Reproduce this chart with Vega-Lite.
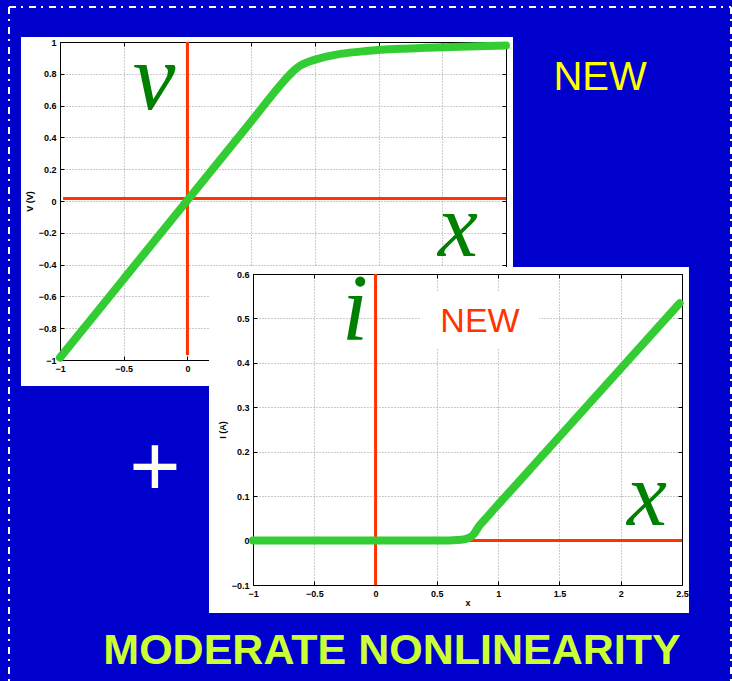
{
  "$schema": "https://vega.github.io/schema/vega-lite/v6.json",
  "background": "#0000CC",
  "padding": {"left": 8, "top": 6, "right": 0, "bottom": 0},
  "config": {
    "view": {"stroke": null},
    "axis": {
      "domainColor": "black", "domainWidth": 1,
      "tickColor": "black", "tickSize": -4, "tickWidth": 1,
      "labelFont": "Liberation Sans", "labelFontSize": 9, "labelFontWeight": "bold", "labelColor": "black", "labelPadding": 8,
      "gridColor": "#999999", "gridDash": [1, 2], "gridWidth": 1,
      "titleFont": "Liberation Sans", "titleFontSize": 9, "titleFontWeight": "bold", "titleColor": "black", "titlePadding": 4,
      "labelFlush": false, "labelOverlap": false
    },
    "axisX": {"titlePadding": 0}
  },
  "datasets": {
    "vcurve": [
      {"x": -1, "v": -0.985}, {"x": -0.5, "v": -0.49}, {"x": 0, "v": 0.005}, {"x": 0.5, "v": 0.5},
      {"x": 0.76, "v": 0.757}, {"x": 0.8, "v": 0.792}, {"x": 0.84, "v": 0.824}, {"x": 0.88, "v": 0.849},
      {"x": 0.95, "v": 0.875}, {"x": 1.05, "v": 0.9}, {"x": 1.2, "v": 0.925}, {"x": 1.4, "v": 0.943},
      {"x": 1.7, "v": 0.958}, {"x": 2.0, "v": 0.967}, {"x": 2.5, "v": 0.978}
    ],
    "icurve": [
      {"x": -1, "i": 0}, {"x": 0, "i": 0}, {"x": 0.5, "i": 0}, {"x": 0.7, "i": 0.002},
      {"x": 0.76, "i": 0.006}, {"x": 0.8, "i": 0.014}, {"x": 0.84, "i": 0.031}, {"x": 0.9, "i": 0.05},
      {"x": 1.2, "i": 0.142}, {"x": 1.5, "i": 0.234}, {"x": 2.0, "i": 0.387}, {"x": 2.48, "i": 0.534}
    ]
  },
  "bounds": "flush",
  "spacing": 0,
  "vconcat": [
    {
      "bounds": "flush",
      "spacing": 0,
      "vconcat": [
        {
          "width": 446, "height": 318,
          "layer": [
            {
              "data": {"values": [{}]},
              "mark": {"type": "rect", "color": "white"},
              "encoding": {
                "x": {"datum": -1.306, "type": "quantitative", "scale": {"domain": [-1, 2.5], "nice": false, "zero": false}, "axis": null},
                "x2": {"datum": 2.555},
                "y": {"datum": 1.031, "type": "quantitative", "scale": {"domain": [-1, 1], "nice": false, "zero": false}, "axis": null},
                "y2": {"datum": -1.164}
              }
            },
            {
              "data": {"values": [{}]},
              "mark": {"type": "rule", "color": "white", "strokeWidth": 2, "strokeDash": [7, 5, 2, 6]},
              "encoding": {
                "x": {"datum": -1.4002, "type": "quantitative", "axis": null},
                "x2": {"datum": 4.2657},
                "y": {"datum": 1.2201, "type": "quantitative", "axis": null}
              }
            },
            {
              "data": {"values": [{}]},
              "mark": {"type": "rule", "color": "white", "strokeWidth": 2, "strokeDash": [7, 5, 2, 6]},
              "encoding": {
                "x": {"datum": -1.4002, "type": "quantitative", "axis": null},
                "y": {"datum": 1.2201, "type": "quantitative", "axis": null},
                "y2": {"datum": -3.0189}
              }
            },
            {
              "data": {"values": [{}]},
              "mark": {"type": "rule", "color": "white", "strokeWidth": 2, "strokeDash": [7, 5, 2, 6]},
              "encoding": {
                "x": {"datum": 4.2657, "type": "quantitative", "axis": null},
                "y": {"datum": 1.2201, "type": "quantitative", "axis": null},
                "y2": {"datum": -3.0189}
              }
            },
            {
              "data": {"values": [{"t": "NEW"}]},
              "mark": {"type": "text", "color": "#FFFF00", "font": "Liberation Sans", "fontSize": 40, "align": "center", "baseline": "alphabetic"},
              "encoding": {
                "text": {"field": "t"},
                "x": {"datum": 3.238, "type": "quantitative", "axis": null},
                "y": {"datum": 0.698, "type": "quantitative", "axis": null}
              }
            }
          ]
        }
      ]
    },
    {
      "bounds": "flush",
      "spacing": 0,
      "vconcat": [
        {
          "width": 446, "height": 318,
          "resolve": {"axis": {"x": "independent", "y": "independent"}},
          "layer": [
            {
              "data": {"values": [{}]},
              "mark": {"type": "rule", "color": "#FF3300", "strokeWidth": 3},
              "encoding": {
                "x": {"datum": 0, "type": "quantitative", "scale": {"domain": [-1, 2.5], "nice": false, "zero": false},
                      "axis": {"orient": "bottom", "values": [-1, -0.5, 0, 0.5, 1, 1.5, 2, 2.5], "format": "~g", "labelExpr": "datum.value <= 0 ? datum.label : ''", "grid": true, "title": null}},
                "y": {"datum": 1, "type": "quantitative", "scale": {"domain": [-1, 1], "nice": false, "zero": false},
                      "axis": {"orient": "left", "values": [-1, -0.8, -0.6, -0.4, -0.2, 0, 0.2, 0.4, 0.6, 0.8, 1], "format": "~g", "grid": true, "title": "V (V)"}},
                "y2": {"datum": -0.969}
              }
            },
            {
              "data": {"values": [{}]},
              "mark": {"type": "rule", "color": "#FF3300", "strokeWidth": 3},
              "encoding": {
                "x": {"datum": -0.976, "type": "quantitative", "axis": null},
                "x2": {"datum": 2.5},
                "y": {"datum": 0.015, "type": "quantitative", "axis": null}
              }
            },
            {
              "data": {"name": "vcurve"},
              "mark": {"type": "line", "color": "#33CC33", "strokeWidth": 8, "strokeCap": "round", "strokeJoin": "round", "interpolate": "monotone"},
              "encoding": {
                "x": {"field": "x", "type": "quantitative",
                      "axis": {"orient": "top", "values": [-1, -0.5, 0, 0.5, 1, 1.5, 2, 2.5], "labels": false, "grid": false, "title": null}},
                "y": {"field": "v", "type": "quantitative",
                      "axis": {"orient": "right", "values": [-1, -0.8, -0.6, -0.4, -0.2, 0, 0.2, 0.4, 0.6, 0.8, 1], "labels": false, "grid": false, "title": null}}
              }
            },
            {
              "data": {"values": [{"t": "v"}]},
              "mark": {"type": "text", "color": "#008000", "font": "Liberation Serif", "fontStyle": "italic", "fontSize": 96, "align": "center", "baseline": "alphabetic"},
              "encoding": {
                "text": {"field": "t"},
                "x": {"datum": -0.262, "type": "quantitative", "axis": null},
                "y": {"datum": 0.579, "type": "quantitative", "axis": null}
              }
            },
            {
              "data": {"values": [{"t": "x"}]},
              "mark": {"type": "text", "color": "#008000", "font": "Liberation Serif", "fontStyle": "italic", "fontSize": 90, "align": "center", "baseline": "alphabetic"},
              "encoding": {
                "text": {"field": "t"},
                "x": {"datum": 2.123, "type": "quantitative", "axis": null},
                "y": {"datum": -0.346, "type": "quantitative", "axis": null}
              }
            }
          ]
        }
      ]
    },
    {
      "width": 1, "height": 232,
      "data": {"values": []},
      "mark": "point"
    },
    {
      "bounds": "flush",
      "spacing": 0,
      "hconcat": [
        {
          "width": 193, "height": 1,
          "data": {"values": []},
          "mark": "point"
        },
        {
          "bounds": "flush",
          "spacing": 0,
          "vconcat": [
            {
              "width": 429, "height": 311,
              "layer": [
                {
                  "data": {"values": [{}]},
                  "mark": {"type": "rect", "color": "white"},
                  "encoding": {
                    "x": {"datum": -1.359, "type": "quantitative", "scale": {"domain": [-1, 2.5], "nice": false, "zero": false}, "axis": null},
                    "x2": {"datum": 2.557},
                    "y": {"datum": 0.6158, "type": "quantitative", "scale": {"domain": [-0.1, 0.6], "nice": false, "zero": false}, "axis": null},
                    "y2": {"datum": -0.163}
                  }
                }
              ]
            }
          ]
        }
      ]
    },
    {
      "bounds": "flush",
      "spacing": 0,
      "hconcat": [
        {
          "width": 193, "height": 1,
          "data": {"values": []},
          "mark": "point"
        },
        {
          "bounds": "flush",
          "spacing": 0,
          "vconcat": [
            {
              "width": 429, "height": 311,
              "resolve": {"axis": {"x": "independent", "y": "independent"}},
              "layer": [
                {
                  "data": {"values": [{}]},
                  "mark": {"type": "rule", "color": "#FF3300", "strokeWidth": 3},
                  "encoding": {
                    "x": {"datum": 0, "type": "quantitative", "scale": {"domain": [-1, 2.5], "nice": false, "zero": false},
                          "axis": {"orient": "bottom", "values": [-1, -0.5, 0, 0.5, 1, 1.5, 2, 2.5], "format": "~g", "grid": true, "title": "x"}},
                    "y": {"datum": 0.6, "type": "quantitative", "scale": {"domain": [-0.1, 0.6], "nice": false, "zero": false},
                          "axis": {"orient": "left", "values": [-0.1, 0, 0.1, 0.2, 0.3, 0.4, 0.5, 0.6], "format": "~g", "grid": true, "title": "I (A)"}},
                    "y2": {"datum": -0.1}
                  }
                },
                {
                  "data": {"values": [{}]},
                  "mark": {"type": "rule", "color": "#FF3300", "strokeWidth": 3},
                  "encoding": {
                    "x": {"datum": -1, "type": "quantitative", "axis": null},
                    "x2": {"datum": 2.5},
                    "y": {"datum": 0, "type": "quantitative", "axis": null}
                  }
                },
                {
                  "data": {"values": [{}]},
                  "mark": {"type": "rect", "color": "white"},
                  "encoding": {
                    "x": {"datum": 0.362, "type": "quantitative", "axis": null},
                    "x2": {"datum": 1.333},
                    "y": {"datum": 0.562, "type": "quantitative", "axis": null},
                    "y2": {"datum": 0.433}
                  }
                },
                {
                  "data": {"name": "icurve"},
                  "mark": {"type": "line", "color": "#33CC33", "strokeWidth": 8, "strokeCap": "round", "strokeJoin": "round", "interpolate": "monotone"},
                  "encoding": {
                    "x": {"field": "x", "type": "quantitative",
                          "axis": {"orient": "top", "values": [-1, -0.5, 0, 0.5, 1, 1.5, 2, 2.5], "labels": false, "grid": false, "title": null}},
                    "y": {"field": "i", "type": "quantitative",
                          "axis": {"orient": "right", "values": [-0.1, 0, 0.1, 0.2, 0.3, 0.4, 0.5, 0.6], "labels": false, "grid": false, "title": null}}
                  }
                },
                {
                  "data": {"values": [{"t": "NEW"}]},
                  "mark": {"type": "text", "color": "#FF3300", "font": "Liberation Sans", "fontSize": 34, "align": "center", "baseline": "alphabetic"},
                  "encoding": {
                    "text": {"field": "t"},
                    "x": {"datum": 0.852, "type": "quantitative", "axis": null},
                    "y": {"datum": 0.469, "type": "quantitative", "axis": null}
                  }
                },
                {
                  "data": {"values": [{"t": "i"}]},
                  "mark": {"type": "text", "color": "#008000", "font": "Liberation Serif", "fontStyle": "italic", "fontSize": 95, "align": "center", "baseline": "alphabetic"},
                  "encoding": {
                    "text": {"field": "t"},
                    "x": {"datum": -0.168, "type": "quantitative", "axis": null},
                    "y": {"datum": 0.451, "type": "quantitative", "axis": null}
                  }
                },
                {
                  "data": {"values": [{"t": "x"}]},
                  "mark": {"type": "text", "color": "#008000", "font": "Liberation Serif", "fontStyle": "italic", "fontSize": 90, "align": "center", "baseline": "alphabetic"},
                  "encoding": {
                    "text": {"field": "t"},
                    "x": {"datum": 2.215, "type": "quantitative", "axis": null},
                    "y": {"datum": 0.035, "type": "quantitative", "axis": null}
                  }
                },
                {
                  "data": {"values": [{"t": "+"}]},
                  "mark": {"type": "text", "color": "#FFFFF0", "font": "Liberation Sans", "fontSize": 88, "align": "center", "baseline": "alphabetic"},
                  "encoding": {
                    "text": {"field": "t"},
                    "x": {"datum": -1.8, "type": "quantitative", "axis": null},
                    "y": {"datum": 0.1003, "type": "quantitative", "axis": null}
                  }
                },
                {
                  "data": {"values": [{"t": "MODERATE NONLINEARITY"}]},
                  "mark": {"type": "text", "color": "#CCFF33", "font": "Liberation Sans", "fontWeight": "bold", "fontSize": 43, "align": "center", "baseline": "alphabetic"},
                  "encoding": {
                    "text": {"field": "t"},
                    "x": {"datum": 0.134, "type": "quantitative", "axis": null},
                    "y": {"datum": -0.277, "type": "quantitative", "axis": null}
                  }
                }
              ]
            }
          ]
        }
      ]
    }
  ]
}
